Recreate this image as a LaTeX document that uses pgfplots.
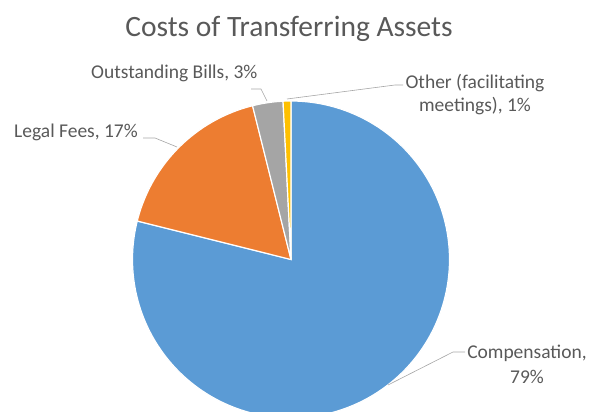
\documentclass[border=0pt]{standalone}
\usepackage{pgfplots}
\pgfplotsset{compat=1.18}
\usepackage{fontspec}
\setmainfont{Carlito}
\definecolor{cBlue}{HTML}{5B9BD5}
\definecolor{cOrange}{HTML}{ED7D31}
\definecolor{cGray}{HTML}{A5A5A5}
\definecolor{cYellow}{HTML}{FFC000}
\definecolor{cText}{HTML}{595959}
\definecolor{cLine}{HTML}{A6A6A6}
% values (percent)
\def\valA{78.9}% Compensation
\def\valB{17.2}% Legal Fees
\def\valC{3.1}%  Outstanding Bills
\def\valD{0.8}%  Other
\def\cx{291}\def\cy{152.5}\def\rr{158.5}
\pgfmathsetmacro{\aZ}{90}
\pgfmathsetmacro{\aA}{90-3.6*\valA}
\pgfmathsetmacro{\aB}{\aA-3.6*\valB}
\pgfmathsetmacro{\aC}{\aB-3.6*\valC}
\pgfmathsetmacro{\aD}{\aC-3.6*\valD}
\begin{document}
\begin{tikzpicture}
\begin{axis}[
  width=590pt, height=412pt, scale only axis,
  xmin=0, xmax=590, ymin=0, ymax=412,
  hide axis, clip=true,
]
\addplot[fill=cBlue, draw=white, line width=1.2pt, domain=\aA:\aZ, samples=200, variable=\t]
  ({\cx+\rr*cos(t)}, {\cy+\rr*sin(t)}) -- (axis cs:\cx,\cy) -- cycle;
\addplot[fill=cOrange, draw=white, line width=1.2pt, domain=\aB:\aA, samples=60, variable=\t]
  ({\cx+\rr*cos(t)}, {\cy+\rr*sin(t)}) -- (axis cs:\cx,\cy) -- cycle;
\addplot[fill=cGray, draw=white, line width=1.2pt, domain=\aC:\aB, samples=20, variable=\t]
  ({\cx+\rr*cos(t)}, {\cy+\rr*sin(t)}) -- (axis cs:\cx,\cy) -- cycle;
\addplot[fill=cYellow, draw=white, line width=1.2pt, domain=\aD:\aC, samples=10, variable=\t]
  ({\cx+\rr*cos(t)}, {\cy+\rr*sin(t)}) -- (axis cs:\cx,\cy) -- cycle;

% leader lines
\draw[cLine, line width=0.6pt] (axis cs:251,323) -- (axis cs:261,323) -- (axis cs:267,311);
\draw[cLine, line width=0.6pt] (axis cs:403,327) -- (axis cs:395,327) -- (axis cs:287,313);
\draw[cLine, line width=0.6pt] (axis cs:143,274) -- (axis cs:155,274) -- (axis cs:177,265);
\draw[cLine, line width=0.6pt] (axis cs:465,60) -- (axis cs:453,60) -- (axis cs:388,27);

% labels
\node[anchor=base, text=cText, font=\fontsize{29.5}{34}\selectfont, inner sep=0pt] at (axis cs:289,375) {Costs of Transferring Assets};
\node[anchor=base west, text=cText, font=\fontsize{19.5}{23}\selectfont, inner sep=0pt] at (axis cs:91,333) {Outstanding Bills, 3\%};
\node[anchor=base west, text=cText, font=\fontsize{19.5}{23}\selectfont, inner sep=0pt] at (axis cs:14,274) {Legal Fees, 17\%};
\node[anchor=base, text=cText, font=\fontsize{19.5}{23}\selectfont, inner sep=0pt] at (axis cs:475,323) {Other (facilitating};
\node[anchor=base, text=cText, font=\fontsize{19.5}{23}\selectfont, inner sep=0pt] at (axis cs:475,300.3) {meetings), 1\%};
\node[anchor=base, text=cText, font=\fontsize{19.5}{23}\selectfont, inner sep=0pt] at (axis cs:527,53) {Compensation,};
\node[anchor=base, text=cText, font=\fontsize{19.5}{23}\selectfont, inner sep=0pt] at (axis cs:527,28) {79\%};
\end{axis}
\pgfresetboundingbox
\useasboundingbox (current axis.south west) rectangle (current axis.north east);
\end{tikzpicture}
\end{document}
